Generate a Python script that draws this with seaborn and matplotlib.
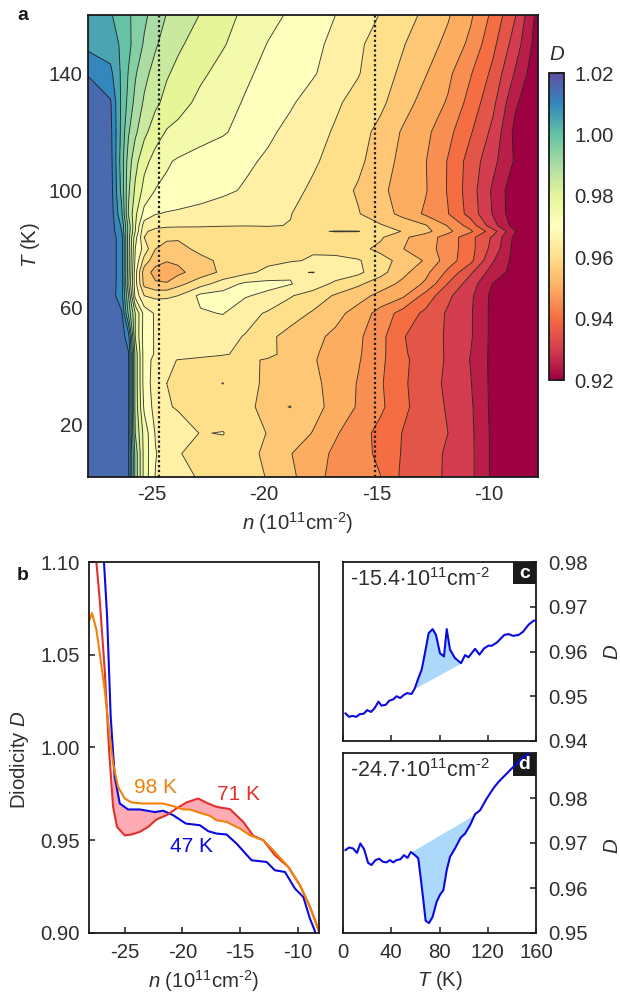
# Temperature / density map of the diodicity, plus line cuts
import numpy as np
import matplotlib
matplotlib.use('Agg')
import matplotlib.pyplot as plt
import seaborn as sns
from matplotlib.cm import ScalarMappable
from matplotlib.colors import Normalize
from matplotlib.patches import Rectangle
from matplotlib.transforms import ScaledTranslation

# Panel a: D(T, n)
map_n = [-28, -27, -26.5, -26.2, -25.9, -25.5, -25, -24.5, -24, -23, -22, -21, -20, -19,
         -18, -17, -16, -15, -14, -13, -12, -11, -10, -9, -8]
map_T = [2, 10, 17, 26, 34, 42, 44, 50, 58, 64, 68, 72, 76, 80, 84, 86, 88, 92, 100, 110,
         120, 130, 140, 150, 160]
map_D = [
    [1.018, 1.018, 1.018, 1.0155, .9935, .978, .9697, .9684, .9669, .9644, .9629, .9613, .9598, .9563, .9515, .9487, .9468, .9451, .9388, .9363, .9345, .9312, .9238, .9222, .9205],
    [1.018, 1.018, 1.018, 1.0155, .9935, .978, .9703, .9675, .9652, .9640, .9630, .9609, .9594, .9552, .9521, .9491, .9468, .9440, .9395, .9365, .9345, .9312, .9238, .9222, .9205],
    [1.018, 1.018, 1.018, 1.0155, .990, .978, .9695, .9685, .9675, .9648, .9652, .9620, .9598, .9575, .9548, .9505, .9473, .9434, .9398, .9374, .9350, .9311, .9238, .9222, .9205],
    [1.018, 1.018, 1.018, 1.0155, .9885, .974, .9680, .9655, .9645, .9632, .9620, .9606, .9592, .9601, .9565, .9535, .9495, .9460, .9410, .9376, .9345, .9308, .9235, .9222, .9205],
    [1.018, 1.018, 1.018, 1.0155, .9885, .9725, .9678, .9650, .9644, .9632, .9651, .9608, .9595, .9577, .9560, .9534, .9497, .9456, .9407, .9374, .9340, .9303, .9235, .9222, .9205],
    [1.018, 1.018, 1.018, 1.0155, .9885, .9725, .9683, .9662, .9648, .9635, .9622, .9609, .9595, .9574, .9554, .9530, .9505, .9461, .9410, .9376, .9344, .9298, .9235, .9222, .9205],
    [1.018, 1.018, 1.018, 1.0155, .9885, .9725, .9695, .9688, .9682, .9669, .9656, .9635, .9612, .9582, .9556, .9532, .9507, .9463, .9407, .9375, .9344, .9300, .9235, .9222, .9205],
    [1.018, 1.018, 1.0175, 1.012, .985, .9725, .9695, .9690, .9683, .9675, .9665, .9647, .9610, .9584, .9563, .9539, .9510, .9465, .9403, .9373, .9344, .9306, .9235, .9222, .9205],
    [1.018, 1.0175, 1.0155, .9988, .985, .973, .9693, .9690, .9690, .9695, .9702, .9668, .9644, .9620, .9595, .9566, .9530, .9481, .9430, .9389, .9343, .9306, .9235, .9222, .9205],
    [1.018, 1.0175, 1.012, .995, .9735, .965, .9640, .9642, .9650, .9712, .9718, .9704, .9688, .9654, .9625, .9595, .9570, .9535, .9508, .9432, .9360, .9310, .9235, .9222, .9205],
    [1.019, 1.018, 1.012, .991, .972, .9585, .9556, .9553, .9585, .9631, .9676, .9710, .9715, .9702, .9680, .9637, .9608, .9574, .9537, .9491, .9397, .9324, .9248, .9225, .9205],
    [1.019, 1.018, 1.012, .992, .972, .957, .9535, .9532, .9538, .9575, .9610, .9637, .9664, .9696, .9701, .9683, .9662, .9616, .9564, .9514, .9439, .9358, .9275, .9232, .9205],
    [1.019, 1.018, 1.012, .992, .974, .963, .9565, .9552, .9558, .9587, .9610, .9625, .9637, .9645, .9655, .9662, .9655, .9620, .9582, .9545, .9474, .9414, .9304, .9230, .9205],
    [1.019, 1.018, 1.012, .992, .975, .968, .9600, .9585, .9585, .9612, .9620, .9628, .9635, .9640, .9645, .9635, .9615, .9587, .9551, .9521, .9477, .9418, .9331, .9230, .9205],
    [1.019, 1.018, 1.012, .992, .977, .965, .9625, .9608, .9606, .9612, .9620, .9625, .9628, .9630, .9630, .9625, .9615, .9607, .9560, .9523, .9481, .9416, .9342, .9235, .9205],
    [1.019, 1.018, 1.010, .993, .980, .9655, .9640, .9638, .9638, .9636, .9636, .9636, .9638, .9640, .9645, .9652, .9652, .9626, .9597, .9566, .9511, .9459, .9371, .9252, .9205],
    [1.019, 1.018, 1.009, .993, .9805, .9675, .966, .9655, .9654, .9654, .9652, .9651, .9652, .9649, .9640, .9628, .9615, .9604, .9581, .9554, .9497, .9428, .9319, .9225, .9205],
    [1.0185, 1.018, 1.0058, .9895, .9812, .9734, .9702, .9696, .9692, .9684, .9675, .9667, .9659, .9651, .9635, .9619, .9603, .9574, .9535, .9492, .9452, .9380, .9296, .9215, .9205],
    [1.018, 1.0175, 1.0033, .9908, .9841, .9783, .9748, .9741, .9735, .9722, .9709, .9695, .9678, .9662, .9643, .9619, .9595, .9560, .9531, .9504, .9446, .9374, .9291, .9215, .9205],
    [1.018, 1.017, 1.0024, .9925, .9867, .9815, .9781, .9755, .9745, .9732, .9720, .9708, .9693, .9675, .9656, .9635, .9611, .9575, .9535, .9502, .9447, .9379, .9314, .9243, .9205],
    [1.0175, 1.0165, 1.0033, .9955, .9910, .9863, .9822, .9796, .9785, .9768, .9755, .9733, .9708, .9688, .9667, .9645, .9618, .9587, .9544, .9512, .9465, .9405, .9337, .9235, .9205],
    [1.017, 1.0155, 1.0038, .9985, .9935, .9893, .9860, .9835, .9820, .9787, .9766, .9746, .9725, .9705, .9682, .9657, .9634, .9610, .9571, .9530, .9495, .9431, .9362, .9257, .9205],
    [1.0148, 1.0113, 1.0040, .9997, .9956, .9914, .9881, .9855, .9838, .9809, .9783, .9757, .9738, .9720, .9704, .9680, .9653, .9621, .9590, .9553, .9511, .9454, .9387, .9293, .9210],
    [1.0085, 1.0073, 1.0042, 1.0011, .9982, .9944, .9906, .9878, .9858, .9829, .9804, .9776, .9748, .9730, .9711, .9689, .9658, .9630, .9603, .9572, .9537, .9488, .9413, .9325, .9222],
    [1.008, 1.0055, 1.0025, 1.0006, .9988, .996, .9928, .9898, .9882, .9848, .9817, .9790, .9766, .9743, .9722, .9700, .9674, .9648, .9620, .9590, .9555, .9508, .9437, .9352, .9230],
]
dotted_n = [-24.85, -15.25]

# Panel b: line cuts at fixed temperature
n_47K = [-26.80, -26.53, -26.22, -25.87, -25.43, -24.71, -23.70, -22.39, -21.67, -20.80, -19.70, -18.49, -17.76, -17.04, -16.17, -15.30, -14.0, -12.70, -11.97, -11.10, -10.23, -9.51, -8.93, -8.47]
D_47K = [1.10, 1.0707, 1.0167, .9843, .9698, .9666, .9666, .9652, .9659, .9635, .9590, .9581, .9549, .9536, .9531, .9482, .9392, .9383, .9338, .9329, .9239, .9194, .9077, .9005]
n_71K = [-27.46, -27.17, -26.74, -26.36, -26.01, -25.67, -25.0, -24.42, -23.70, -22.97, -22.25, -21.38, -20.51, -19.64, -18.63, -17.76, -17.04, -15.88, -14.72, -13.85, -12.98, -11.97, -10.81, -9.80, -8.93, -8.12]
D_71K = [1.10, 1.0797, 1.0419, .9986, .9680, .9572, .9526, .9531, .9545, .9572, .9612, .9635, .9671, .9704, .9725, .9698, .9680, .9668, .9599, .9524, .95, .9419, .9356, .9257, .9140, .9005]
n_98K = [-28.1, -27.84, -27.46, -27.17, -26.74, -26.30, -26.01, -25.58, -25.0, -24.42, -23.41, -21.67, -20.80, -19.93, -19.35, -18.49, -17.62, -17.04, -16.17, -15.01, -14.14, -12.98, -12.12, -10.81, -9.80, -8.93, -8.12]
D_98K = [1.068, 1.0725, 1.0635, 1.0509, 1.0311, 1.0058, .9914, .9788, .9725, .9704, .9698, .9698, .9684, .9666, .9666, .9648, .9632, .9608, .9599, .9563, .9527, .95, .9446, .9356, .9257, .9140, .9005]

# Panels c, d: cuts at fixed density
T_c = [1.9, 5, 7.8, 11.1, 13.9, 17.2, 20, 23.3, 26.1, 29.4, 31.9, 35.5, 38.3, 41.6, 44.4, 47.4, 50.5, 53.2, 56.8, 59.6, 62.4, 65.2, 67.9, 71, 74.3, 77.1, 80.4, 83.7, 86, 88.7, 92.9, 97.9, 101.2, 104, 109.5, 113.1, 117, 120.6, 123.4, 127.6, 133.7, 137.3, 140.9, 145.6, 149.2, 153.9, 158.1, 160]
D_c = [.9462, .9454, .9456, .9454, .9460, .9461, .9469, .9465, .9473, .9488, .9479, .9481, .9490, .9493, .9500, .9496, .9503, .9507, .9505, .9518, .9540, .9559, .9596, .9641, .9650, .9637, .9596, .9589, .9650, .9604, .9585, .9574, .9592, .9587, .9606, .9593, .9607, .9613, .9613, .9620, .9637, .9639, .9635, .9637, .9644, .9660, .9669, .9669]
T_d = [1.9, 5, 8.3, 11.6, 14.4, 17.5, 20.8, 23.6, 26.9, 30, 33.3, 36.1, 38.8, 41.6, 44.4, 47.7, 50.5, 53.5, 56.3, 59.6, 62.4, 64.3, 66.6, 68.5, 71.3, 74.3, 77.6, 80.4, 83.2, 86, 88.7, 92.9, 97.6, 101.2, 105.4, 109.5, 113.7, 119.2, 124.8, 129, 134.5, 140, 144.2, 149.8, 153.9]
D_d = [.9684, .9690, .9688, .9678, .9699, .9686, .9656, .9651, .9662, .9665, .9658, .9657, .9662, .9657, .9662, .9664, .9673, .9667, .9680, .9673, .9666, .9625, .9573, .9527, .9522, .9536, .9569, .9585, .9595, .9640, .9669, .9688, .9712, .9721, .9740, .9764, .9773, .9799, .9822, .9836, .9851, .9866, .9877, .9892, .9898]

FIG_W, FIG_H = 620, 992
BLUE = '#0a0ae0'
RED = '#e0322c'
ORANGE = '#f08208'
PINK = '#ffabb5'
SKY = '#acd9fb'
TEXT = '#2e2e2e'
FS = 14.7


def add_axes_px(fig, left, top, right, bottom):
    # axes position given in image pixels
    return fig.add_axes([left / FIG_W, 1 - bottom / FIG_H, (right - left) / FIG_W, (bottom - top) / FIG_H])


def style_axes(ax, right=False, xpad=7, ypad=6.5):
    ax.tick_params(direction='in', length=4.5, width=1.1, colors='k', labelcolor=TEXT, labelsize=FS)
    ax.tick_params(axis='x', pad=xpad)
    ax.tick_params(axis='y', pad=ypad)
    if right:
        ax.yaxis.tick_right()
    for s in ax.spines.values():
        s.set_visible(True)
        s.set_linewidth(1.3)
        s.set_color('k')


def fill_cut(ax, T, D, T_from, T_to):
    # shaded area between the curve and the straight baseline under the feature
    T = np.array(T)
    D = np.array(D)
    D_from = np.interp(T_from, T, D)
    D_to = np.interp(T_to, T, D)
    mask = (T >= T_from) & (T <= T_to)
    base = D_from + (T[mask] - T_from) * (D_to - D_from) / (T_to - T_from)
    ax.fill_between(T[mask], D[mask], base, color=SKY, lw=0)


def corner_label(ax, letter):
    ax.add_patch(Rectangle((0.88, 0.875), 0.12, 0.125, transform=ax.transAxes, color='k', lw=0, zorder=1))
    ax.text(0.94, 0.935, letter, transform=ax.transAxes, color='w', fontsize=14, fontweight='bold',
            ha='center', va='center', zorder=2)


sns.set_theme(style='ticks')
plt.rcParams['font.family'] = ['Liberation Sans', 'DejaVu Sans']
plt.rcParams['mathtext.fontset'] = 'custom'
plt.rcParams['mathtext.rm'] = 'Liberation Sans'
plt.rcParams['mathtext.it'] = 'Liberation Sans:italic'
plt.rcParams['mathtext.default'] = 'regular'
plt.rcParams['axes.unicode_minus'] = False

fig = plt.figure(figsize=(FIG_W / 100, FIG_H / 100), dpi=100)
cmap = matplotlib.colormaps['Spectral']
density_label = r'$\mathit{n}$ (10$^{11}$cm$^{\text{-}2}$)'

# --- panel a
ax_a = add_axes_px(fig, 88, 15, 538, 477)
levels = np.arange(0.92, 1.0201, 0.005)
band_colors = [cmap(k / 20) for k in range(len(levels) - 1)]
ax_a.contourf(map_n, map_T, np.array(map_D), levels=levels, colors=band_colors)
ax_a.contour(map_n, map_T, np.array(map_D), levels=levels[1:-1], colors='k', linewidths=0.65, alpha=0.85)
for x in dotted_n:
    ax_a.axvline(x, color='k', ls=(0, (1, 1.2)), lw=1.6)
ax_a.set_xlim(-28, -8)
ax_a.set_ylim(2, 160)
ax_a.set_xticks([-25, -20, -15, -10])
ax_a.set_yticks([20, 60, 100, 140])
style_axes(ax_a, xpad=5.5, ypad=4)
# the hyphen hangs, so the reference's labels sit a little left of their ticks
shift = ScaledTranslation(-4 / 100, 0, fig.dpi_scale_trans)
for lbl in ax_a.get_xticklabels():
    lbl.set_transform(lbl.get_transform() + shift)
fig.text(298 / FIG_W, 1 - 523 / FIG_H, density_label, fontsize=FS, color=TEXT, ha='center', va='center')
fig.text(31 / FIG_W, 1 - 245 / FIG_H, r'$\mathit{T}$ (K)', fontsize=FS, color=TEXT, rotation=90, ha='center', va='center')
fig.text(23 / FIG_W, 1 - 15 / FIG_H, 'a', fontsize=14, fontweight='bold', color='k', ha='center', va='center')

# colour bar
cax = add_axes_px(fig, 549, 73, 564, 380)
sm = ScalarMappable(norm=Normalize(0.92, 1.02), cmap=cmap)
cbar = fig.colorbar(sm, cax=cax)
cbar.set_ticks([0.92, 0.94, 0.96, 0.98, 1.00, 1.02])
cbar.ax.set_yticklabels(['0.92', '0.94', '0.96', '0.98', '1.00', '1.02'])
cbar.ax.tick_params(direction='in', length=5, width=1.1, color='k', labelcolor=TEXT, labelsize=FS, pad=7.5)
cbar.outline.set_linewidth(1.3)
cbar.outline.set_edgecolor('k')
fig.text(557 / FIG_W, 1 - 55 / FIG_H, 'D', fontsize=FS, fontstyle='italic', color=TEXT, ha='center', va='center')

# --- panel b
ax_b = add_axes_px(fig, 89, 562, 319, 933)
grid = np.linspace(-26.1, -14, 400)
d47 = np.interp(grid, n_47K, D_47K)
d71 = np.interp(grid, n_71K, D_71K)
d98 = np.interp(grid, n_98K, D_98K)
ax_b.fill_between(grid, d71, d47, where=(d71 < d47) & (grid < -21), color=PINK, lw=0)
ax_b.fill_between(grid, d71, d98, where=(d71 > d98) & (grid > -21), color=PINK, lw=0)
sns.lineplot(x=n_47K, y=D_47K, color=BLUE, lw=1.5, ax=ax_b)
sns.lineplot(x=n_71K, y=D_71K, color=RED, lw=1.5, ax=ax_b)
sns.lineplot(x=n_98K, y=D_98K, color=ORANGE, lw=1.5, ax=ax_b)
ax_b.set_xlim(-28.1, -8.15)
ax_b.set_ylim(0.90, 1.10)
ax_b.set_xticks([-25, -20, -15, -10])
ax_b.set_yticks([0.90, 0.95, 1.00, 1.05, 1.10])
ax_b.set_yticklabels(['0.90', '0.95', '1.00', '1.05', '1.10'])
style_axes(ax_b)
ax_b.text(-22.3, 0.9785, '98 K', color=ORANGE, fontsize=15, ha='center', va='center')
ax_b.text(-15.1, 0.9745, '71 K', color=RED, fontsize=15, ha='center', va='center')
ax_b.text(-19.2, 0.9465, '47 K', color=BLUE, fontsize=15, ha='center', va='center')
fig.text(204 / FIG_W, 1 - 981 / FIG_H, density_label, fontsize=FS, color=TEXT, ha='center', va='center')
fig.text(20 / FIG_W, 1 - 760 / FIG_H, r'Diodicity $\mathit{D}$', fontsize=FS, color=TEXT, rotation=90, ha='center', va='center')
fig.text(23 / FIG_W, 1 - 575 / FIG_H, 'b', fontsize=14, fontweight='bold', color='k', ha='center', va='center')

# --- panel c
ax_c = add_axes_px(fig, 343, 562, 536, 741)
fill_cut(ax_c, T_c, D_c, 59.6, 97.9)
sns.lineplot(x=T_c, y=D_c, color=BLUE, lw=1.5, ax=ax_c, zorder=3)
ax_c.set_xlim(0, 160)
ax_c.set_ylim(0.94, 0.98)
ax_c.set_xticks([0, 40, 80, 120, 160])
ax_c.set_xticklabels([])
ax_c.set_yticks([0.94, 0.95, 0.96, 0.97, 0.98])
ax_c.set_yticklabels(['0.94', '0.95', '0.96', '0.97', '0.98'])
style_axes(ax_c, right=True, ypad=9)
corner_label(ax_c, 'c')
ax_c.text(0.035, 0.9, r'-15.4$\cdot$10$^{11}$cm$^{\text{-}2}$', transform=ax_c.transAxes, fontsize=15.5, color=TEXT, ha='left', va='center')
fig.text(612 / FIG_W, 1 - 652 / FIG_H, 'D', fontsize=FS, fontstyle='italic', color=TEXT, rotation=90, ha='center', va='center')

# --- panel d
ax_d = add_axes_px(fig, 343, 753, 536, 933)
fill_cut(ax_d, T_d, D_d, 56.3, 109.5)
corner_label(ax_d, 'd')
sns.lineplot(x=T_d, y=D_d, color=BLUE, lw=1.5, ax=ax_d, zorder=3)
ax_d.set_xlim(0, 160)
ax_d.set_ylim(0.95, 0.99)
ax_d.set_xticks([0, 40, 80, 120, 160])
ax_d.set_yticks([0.95, 0.96, 0.97, 0.98])
ax_d.set_yticklabels(['0.95', '0.96', '0.97', '0.98'])
style_axes(ax_d, right=True, ypad=9)
ax_d.text(0.035, 0.905, r'-24.7$\cdot$10$^{11}$cm$^{\text{-}2}$', transform=ax_d.transAxes, fontsize=15.5, color=TEXT, ha='left', va='center')
fig.text(612 / FIG_W, 1 - 846 / FIG_H, 'D', fontsize=FS, fontstyle='italic', color=TEXT, rotation=90, ha='center', va='center')
fig.text(440 / FIG_W, 1 - 980 / FIG_H, r'$\mathit{T}$ (K)', fontsize=FS, color=TEXT, ha='center', va='center')

fig.savefig('out.png', dpi=100)
